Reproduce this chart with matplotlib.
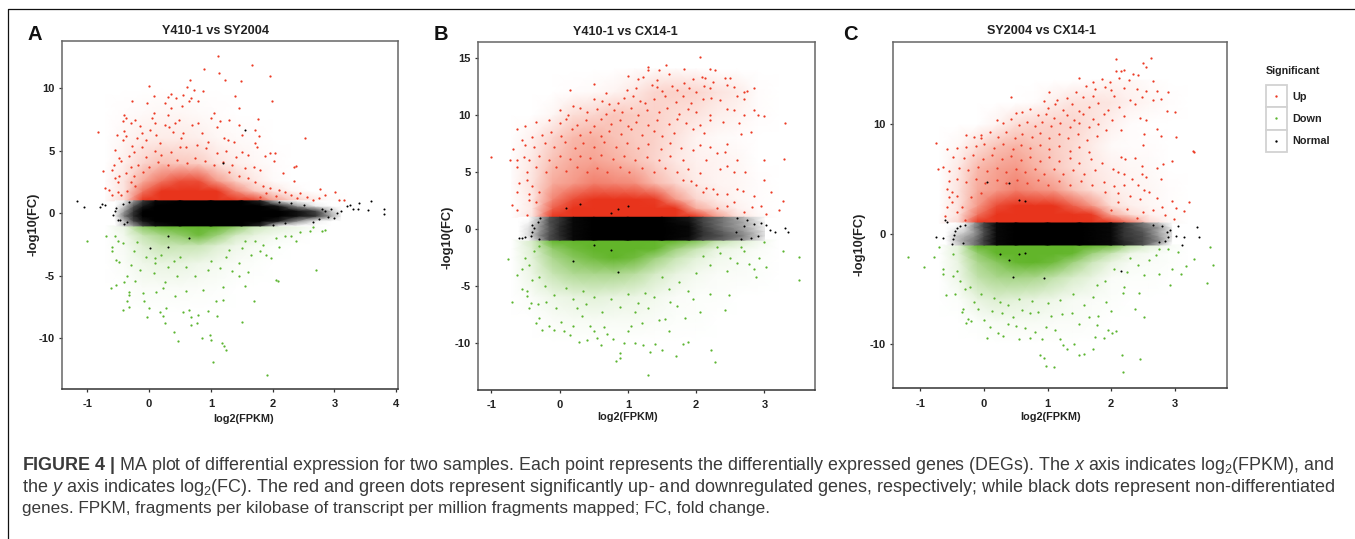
import matplotlib
matplotlib.use('Agg')
import matplotlib.pyplot as plt
from matplotlib.colors import LinearSegmentedColormap
from matplotlib.lines import Line2D
from matplotlib.patches import Rectangle
import numpy as np

plt.rcParams['font.family'] = ['Liberation Sans', 'DejaVu Sans']
plt.rcParams['mathtext.fontset'] = 'custom'
plt.rcParams['mathtext.rm'] = 'Liberation Sans'
plt.rcParams['mathtext.it'] = 'Liberation Sans:italic'
plt.rcParams['mathtext.bf'] = 'Liberation Sans:bold'
plt.rcParams['mathtext.default'] = 'regular'
plt.rcParams['axes.unicode_minus'] = False

W, H = 1355, 539

# sampling nodes of the density tables (dense clouds are too many points to list one by one)
cloud_x = [-0.7, -0.4, -0.1, 0.2, 0.5, 0.8, 1.1, 1.4, 1.7, 2.0, 2.3, 2.6, 2.9, 3.2]
up_y = [1, 1.8, 2.6, 4, 6, 8, 10, 12, 14]
down_y = [-1, -1.8, -2.6, -4, -6, -8, -10]
band_y = [-1, -0.6, -0.2, 0.2, 0.6, 1]

# ---------- Panel A : points ----------
up_a = [(1.12,12.6),(0.89,11.55),(1.14,11.2),(1.23,10.7),(1.66,11.9),(1.95,11.0),(1.49,10.6),(1.99,9.0),(0,10.2),(0.66,10.7),(0.62,10.1),
(0.73,9.9),(-0.27,9.0),(0.35,9.55),(0.88,9.8),(1.39,9.4),(1.45,8.4),(-0.82,6.5),(2.53,6.05),(1.77,7.55),(1.71,6.65),(2.34,3.7),(2.38,3.75),
(2.17,3.2),(2.35,2.6),(2.77,1.97),(3.01,1.73),(3.07,1.07),(3.15,1.07),(0.08,9.4),(0.3,9.3),(0.44,9.2),(0.55,9.5),(0.68,9.2),(0.8,9.0),
(0.25,8.8),(0.53,8.6),(0.35,8.4),(-0.03,8.8),(0.65,9.0),(-0.4,7.9),(-0.38,7.6),(-0.42,7.4),(-0.4,6.6),(-0.38,6.2),(-0.42,5.9),(-0.52,6.3),
(-0.55,5.1),(-0.45,4.2),(-0.48,4.4),(-0.57,3.9),(-0.6,3.5),(-0.74,3.4),(-0.72,2.0),(-0.65,1.9),(-0.6,1.5),(-0.55,2.8),(-0.5,2.5),(-0.48,3.0),
(-0.5,1.7),(-0.45,1.5),(-0.3,7.2),(-0.22,7.5),(-0.15,7.0),(-0.12,6.4),(-0.2,6.0),(-0.28,5.4),(-0.32,4.6),(-0.25,4.9),(-0.12,5.3),(-0.05,5.9),
(0.05,7.6),(0.08,8.0),(0.1,7.2),(0.02,6.7),(0.12,6.3),(0.18,5.6),(0.25,7.1),(0.3,7.9),(0.33,6.9),(0.38,6.5),(0.42,7.2),(0.48,7.5),(0.52,6.0),
(0.55,6.4),(0.6,5.3),(0.7,7.1),(0.8,7.2),(0.85,6.4),(0.95,5.7),(1.0,7.6),(1.05,8.0),(1.1,6.9),(1.15,7.4),(1.3,7.5),(1.22,6.0),(1.28,5.9),
(1.38,5.7),(1.5,6.3),(1.45,7.1),(1.72,5.6),(1.75,5.3),(1.78,6.2),(1.95,4.8),(2.04,4.8),(1.88,4.6),(2.03,4.2),(1.6,4.7),(1.5,4.9),(1.4,4.5),
(1.25,5.0),(1.1,4.8),(0.92,5.2),(0.78,5.5),(0.5,5.3),(0.35,4.9),(0.2,4.7),(0.1,5.0),(-0.05,4.5),(-0.18,3.9),(-0.3,3.7),(-0.38,3.2),(-0.3,2.5),
(-0.22,2.2),(-0.35,1.8),(-0.25,3.0),(-0.1,3.3),(0.0,3.7),(0.15,4.1),(0.3,3.9),(0.45,4.3),(0.62,4.0),(0.75,4.4),(0.9,4.2),(1.05,3.9),(1.2,4.1),
(1.35,3.9),(1.55,3.6),(1.7,3.7),(1.8,3.5),(1.3,3.3),(1.45,3.0),(1.6,2.8),(1.72,2.5),(1.85,2.2),(1.95,2.0),(2.1,1.9),(2.2,1.7),(2.3,1.5),(2.45,1.6),
(2.55,1.3),(2.65,1.1),(2.75,1.25),(2.85,1.45),(2.4,1.2),(2.05,1.4),(1.9,1.6),(1.8,1.3)]
down_a = [(-1.0,-2.2),(-0.7,-1.8),(-0.6,-2.7),(-0.6,-3.0),(-0.55,-1.8),(-0.5,-2.2),(-0.43,-2.4),(-0.54,-3.7),(-0.62,-6.0),(-0.53,-5.7),(-0.42,-7.7),
(-0.35,-7.0),(-0.33,-7.5),(-0.33,-6.3),(-0.32,-6.5),(-0.35,-5.0),(-0.4,-5.5),(-0.48,-3.9),(-0.3,-4.1),(-0.25,-3.0),(-0.2,-2.3),(-0.22,-5.4),(-0.15,-4.5),
(-0.1,-6.4),(-0.08,-7.0),(-0.03,-8.3),(0.0,-7.6),(0.08,-4.8),(0.12,-6.3),(0.09,-3.6),(0.17,-7.9),(0.22,-6.0),(0.22,-8.2),(0.28,-7.6),(0.25,-5.5),(0.3,-4.3),
(0.25,-8.8),(0.4,-9.5),(0.47,-10.2),(0.42,-6.6),(0.45,-5.0),(0.55,-7.9),(0.6,-6.2),(0.65,-7.7),(0.68,-8.3),(0.68,-8.9),(0.8,-8.1),(0.78,-8.8),(0.95,-7.8),
(0.88,-6.1),(0.85,-10.0),(0.98,-9.7),(1.0,-10.1),(1.03,-11.9),(1.18,-10.4),(1.22,-10.6),(1.25,-10.9),(1.1,-8.2),(1.2,-5.9),(1.2,-6.9),(1.08,-7.0),(1.5,-8.7),
(1.55,-5.8),(1.7,-7.0),(1.91,-12.9),(2.05,-5.35),(2.08,-5.4),(2.7,-4.5),(1.45,-5.0),(1.35,-4.6),(1.15,-4.4),(0.95,-4.5),(0.75,-5.0),(0.6,-4.3),(0.4,-3.8),
(1.0,-3.8),(1.25,-3.5),(1.45,-4.0),(1.6,-4.7),(1.65,-3.3),(1.8,-3.0),(1.9,-3.3),(1.98,-3.6),(1.85,-2.5),(2.05,-2.0),(2.1,-2.7),(2.2,-1.8),(2.3,-1.8),(2.45,-1.5),
(2.38,-2.2),(2.6,-1.4),(2.8,-1.4),(2.85,-1.3),(2.65,-1.1),(1.5,-2.8),(1.3,-2.9),(1.72,-2.2),(1.55,-2.2),(0.1,-4.0),(-0.05,-3.5),(0.2,-3.3),(0.5,-3.5)]
norm_a = [(-1.17,0.95),(-1.05,0.5),(-0.8,0.5),(-0.77,0.75),(-0.72,0.7),(-0.53,0.4),(-0.55,0.15),(-0.58,-0.15),(-0.5,-0.5),(-0.47,-0.55),(-0.4,-0.85),(-0.35,-0.7),
(-0.42,0.75),(-0.32,0.9),(3.2,0.55),(3.25,0.65),(3.3,0.35),(3.4,0.85),(3.38,0.35),(3.55,0.25),(3.6,0.95),(3.81,0.35),(3.81,-0.05),(3.1,0.2),(3.05,0.05),(3.0,-0.4),
(2.95,0.35),(2.9,-0.3),(2.85,0.2),(2.8,0.35),(2.75,-0.45),(2.65,-0.65),(2.5,0.65),(2.3,0.85),(2.2,-0.8),(2.1,0.9),(2.0,-0.9),(1.2,4.0),(1.55,6.65),(0.3,-2.7),(0.3,-1.8),(0.02,-2.8),(0.65,-2.0)]
band_x_a = [-0.55,-0.4,-0.25,-0.1,0.1,0.5,1.0,1.5,1.8,2.1,2.4,2.7,2.95,3.1]
band_tab_a = [[0,.15,.3,.6,.9,1,1,1,.8,.05,0,0,0,0],
              [0,.2,.6,.9,1,1,1,1,1,.85,.35,.05,0,0],
              [.05,.4,.75,1,1,1,1,1,1,1,.9,.7,.25,.05],
              [.03,.3,.7,1,1,1,1,1,1,1,.9,.6,.15,.02],
              [0,.15,.5,.85,1,1,1,1,1,.85,.3,.05,0,0],
              [0,.05,.3,.65,.95,1,1,1,.8,.1,0,0,0,0]]
up_tab_a = [[.02,.15,.7,.95,1,1,1,.95,.6,.35,.2,.1,.02,0],
            [.01,.1,.45,.7,.85,.9,.7,.4,.2,.1,.03,0,0,0],
            [.01,.1,.3,.45,.55,.55,.35,.18,.08,.02,0,0,0,0],
            [0,.06,.15,.22,.2,.18,.1,.06,.03,.01,0,0,0,0],
            [0,.03,.06,.07,.07,.06,.03,.02,.01,0,0,0,0,0],
            [0,.01,.02,.03,.03,.02,.01,0,0,0,0,0,0,0],
            [0,0,0,0,0,0,0,0,0,0,0,0,0,0],
            [0,0,0,0,0,0,0,0,0,0,0,0,0,0],
            [0,0,0,0,0,0,0,0,0,0,0,0,0,0]]
down_tab_a = [[0,.08,.45,.6,.75,.75,.7,.45,.2,.12,.08,.03,0,0],
              [0,.05,.2,.3,.4,.55,.35,.15,.08,.04,.02,0,0,0],
              [0,.03,.12,.2,.2,.2,.12,.06,.03,.01,0,0,0,0],
              [0,.02,.06,.08,.08,.06,.04,.02,.01,0,0,0,0,0],
              [0,0,.02,.02,.02,.015,.01,0,0,0,0,0,0,0],
              [0,0,0,0,0,0,0,0,0,0,0,0,0,0],
              [0,0,0,0,0,0,0,0,0,0,0,0,0,0]]

# ---------- Panel B ----------
up_b = [(2.05,15.1),(1.3,14.2),(1.3,13.9),(1.56,14.35),(1.82,14.0),(2.2,14.0),(2.28,13.9),(1.45,13.9),(1.6,13.6),(1.0,13.35),(1.15,13.1),(1.22,13.3),(1.42,13.0),
(1.95,13.1),(2.08,13.3),(2.13,13.2),(2.42,13.2),(2.5,13.2),(2.25,12.9),(0.5,12.7),(0.15,12.15),(0.68,11.9),(0.98,12.2),(1.12,12.3),(1.35,12.6),(1.42,12.4),(1.5,12.1),
(1.65,12.5),(1.72,12.2),(1.82,12.8),(1.9,12.3),(2.0,12.0),(2.12,12.5),(2.2,12.3),(2.45,12.6),(2.55,12.4),(2.7,12.0),(2.85,12.3),(2.75,12.1),(0.5,11.4),(0.62,11.2),(0.72,10.9),
(0.85,11.0),(0.95,11.5),(1.08,11.6),(1.18,11.2),(1.25,11.0),(1.38,11.4),(1.55,11.6),(1.7,11.1),(1.8,11.6),(1.92,11.0),(2.1,11.4),(2.22,11.5),(2.35,11.3),(2.6,11.6),(2.7,11.4),
(0.0,10.4),(0.12,10.0),(0.2,10.8),(0.3,10.6),(0.4,10.2),(0.55,10.5),(0.68,10.1),(0.8,10.4),(0.92,10.2),(1.05,10.6),(1.15,10.0),(1.28,10.4),(1.45,10.2),(1.58,10.6),(1.75,10.1),
(1.88,10.5),(2.0,10.2),(2.2,10.0),(2.45,10.5),(2.55,10.4),(2.7,10.0),(2.9,10.0),(3.0,9.9),(2.85,10.4),(3.3,9.3),(-0.35,9.4),(-0.15,9.5),(-0.5,9.0),(-0.62,8.7),(0.0,9.3),(0.1,9.6),
(0.25,9.1),(0.38,9.5),(0.5,9.0),(0.6,9.6),(0.75,9.2),(0.88,9.5),(1.0,9.0),(1.12,9.4),(1.3,9.1),(1.42,9.5),(1.6,9.2),(1.72,9.6),(1.85,9.3),(2.05,9.1),(2.2,9.5),(2.4,9.4),(2.62,9.3),
(2.8,8.5),(2.65,8.3),(2.12,8.4),(1.95,8.7),(1.68,8.4),(1.5,8.1),(1.38,8.6),(1.2,8.2),(1.05,8.7),(0.9,8.3),(0.72,8.6),(0.6,8.1),(0.45,8.5),(0.3,8.2),(0.18,8.7),(0.02,8.1),(-0.12,8.5),
(-0.25,8.2),(-0.4,8.0),(-0.55,7.8),(-0.5,7.3),(-0.38,7.2),(-0.22,7.5),(-0.08,7.2),(0.08,7.6),(0.22,7.1),(0.35,7.5),(0.5,7.2),(0.65,7.6),(0.82,7.2),(0.98,7.5),(1.15,7.1),(1.3,7.4),
(1.48,7.0),(1.62,7.5),(1.78,7.1),(1.95,6.9),(2.05,7.3),(2.2,7.2),(2.45,7.4),(-0.68,7.0),(-1.0,6.25),(-0.73,6.05),(-0.62,6.0),(-0.52,6.3),(-0.45,6.0),(-0.3,6.4),(-0.15,6.0),(0.0,6.4),
(0.15,6.1),(0.3,6.4),(0.45,6.2),(0.6,6.5),(0.78,6.1),(0.95,6.4),(1.1,6.0),(1.28,6.3),(1.45,6.0),(1.62,6.4),(1.8,6.0),(2.15,6.0),(2.3,6.6),(2.42,6.7),(2.6,6.0),(3.0,6.0),(3.28,6.1),
(-0.62,5.4),(-0.48,5.0),(-0.35,5.4),(-0.2,5.0),(-0.05,5.4),(0.1,5.1),(0.25,5.4),(0.4,5.0),(0.55,5.3),(0.7,5.0),(0.88,5.4),(1.02,5.0),(1.2,5.3),(1.38,5.0),(1.55,5.3),(1.72,5.0),(1.88,5.2),
(2.05,4.9),(2.35,5.2),(2.45,5.5),(2.55,5.0),(2.72,5.0),(3.0,4.3),(-0.6,4.0),(-0.48,4.3),(-0.4,3.7),(-0.62,3.2),(-0.45,3.0),(-0.7,2.1),(-0.62,1.6),(-0.45,2.5),(-0.35,2.3),(-0.48,1.2),(-0.3,3.2),
(2.15,3.6),(2.25,3.5),(2.3,3.0),(2.1,3.2),(2.0,3.8),(2.45,3.0),(2.6,3.5),(2.68,3.3),(2.85,2.9),(3.1,3.2),(3.27,2.4),(3.22,1.6),(2.95,2.0),(3.02,1.3),(2.7,1.5),(2.55,2.3),(2.45,2.0),(2.82,1.9),(2.3,1.8),(1.92,4.2),(1.8,4.3)]
down_b = [(-0.75,-2.7),(-0.62,-4.1),(-0.7,-6.4),(-0.55,-5.3),(-0.48,-5.5),(-0.47,-5.9),(-0.45,-7.0),(-0.42,-6.5),(-0.35,-8.3),(-0.3,-7.8),(-0.25,-8.9),(-0.15,-8.5),(-0.08,-8.9),(-0.05,-7.0),
(0.02,-8.2),(0.07,-9.0),(0.15,-9.3),(0.2,-8.5),(0.28,-9.9),(0.33,-7.7),(0.38,-6.6),(0.45,-8.5),(0.5,-9.0),(0.55,-9.6),(0.6,-10.2),(0.7,-9.2),(0.78,-9.7),(0.82,-11.6),(0.88,-10.9),(0.88,-11.3),(0.95,-10.0),
(1.0,-9.0),(1.05,-8.5),(1.1,-10.0),(1.22,-10.2),(1.3,-12.8),(1.32,-10.8),(1.4,-10.1),(1.5,-10.6),(1.55,-7.9),(1.6,-9.0),(1.7,-11.2),(1.8,-10.1),(1.88,-9.9),(1.83,-7.8),(2.22,-10.6),(2.28,-11.7),(2.05,-7.3),
(2.2,-5.7),(2.48,-5.8),(2.42,-7.1),(1.95,-6.2),(1.88,-5.5),(3.5,-4.5),(3.5,-2.5),(3.27,-2.0),(3.02,-3.4),(2.88,-4.2),(2.78,-3.1),(2.85,-3.5),(2.6,-3.0),(2.45,-3.7),(2.5,-2.6),(2.35,-2.1),(2.2,-3.2),(2.1,-2.4),
(2.0,-3.9),(1.75,-4.7),(1.6,-5.3),(1.5,-4.2),(1.38,-6.0),(1.25,-5.6),(1.15,-6.5),(1.0,-5.7),(0.88,-6.9),(0.75,-6.2),(0.62,-7.3),(0.5,-6.0),(0.35,-5.5),(0.2,-6.2),(0.1,-5.2),(-0.08,-5.8),(-0.2,-6.4),(-0.32,-6.6),
(-0.55,-3.5),(-0.45,-3.2),(-0.4,-4.5),(-0.3,-4.2),(-0.22,-5.0),(-0.5,-2.6),(-0.38,-2.0),(-0.3,-1.5),(1.1,-7.3),(1.3,-7.0),(1.45,-8.0),(1.62,-6.4),(1.72,-6.8),(0.25,-7.0),(0.4,-9.8),(0.65,-8.6),(1.2,-8.3),
(2.3,-1.6),(2.7,-2.0),(2.92,-2.6),(3.0,-1.2),(2.65,-1.6)]
norm_b = [(-0.6,-0.8),(-0.55,-0.8),(-0.5,-0.7),(-0.42,-0.65),(-0.4,-0.3),(-0.38,0.1),(-0.4,0.3),(-0.32,0.6),(-0.3,-0.9),(-0.28,0.9),(3.35,-0.3),(3.3,0.1),(3.15,-0.3),(3.08,-0.1),(3.02,0.3),(2.95,0.5),
(2.9,-0.6),(2.85,0.4),(2.8,-0.8),(2.75,0.8),(2.7,0.2),(2.65,-0.9),(2.6,0.9),(2.58,-0.3),(0.85,-3.8),(0.2,-2.8),(0.5,-1.4),(0.75,-1.9),(0.1,1.8),(0.3,2.2),(0.75,1.4),(0.85,1.7),(1.0,2.0)]
band_x_b = [-0.6,-0.45,-0.3,-0.15,0,0.2,0.5,1,1.5,1.9,2.1,2.4,2.7,3.0]
band_tab_b = [[0,.03,.25,.55,.7,.95,1,1,1,.9,.6,.45,.3,.05],
              [0,.1,.35,.55,.75,.95,1,1,1,.95,.7,.5,.35,.1],
              [0,.1,.3,.5,.75,.95,1,1,1,.95,.7,.45,.3,.08],
              [0,.08,.3,.5,.75,.95,1,1,1,.95,.65,.4,.25,.05],
              [0,.03,.25,.55,.7,.95,1,1,1,.9,.6,.4,.25,.03],
              [0,0,.2,.5,.7,.95,1,1,1,.85,.6,.4,.2,0]]
up_tab_b = [[0,.1,.75,1,1,1,1,1,.95,.7,.35,.12,.03,0],
            [0,.08,.5,.8,.95,.95,.95,.95,.7,.3,.15,.05,.01,0],
            [0,.08,.4,.55,.7,.7,.65,.6,.35,.15,.07,.03,.01,0],
            [.01,.1,.3,.35,.42,.4,.38,.25,.15,.07,.04,.03,.01,0],
            [.01,.08,.22,.3,.32,.28,.22,.15,.08,.05,.04,.03,0,0],
            [0,.05,.15,.25,.28,.22,.18,.16,.1,.04,.02,.01,0,0],
            [0,0,.03,.12,.15,.2,.18,.16,.12,.1,.06,.04,.01,0],
            [0,0,0,.01,.02,.04,.08,.15,.16,.15,.1,.07,.01,0],
            [0,0,0,0,0,0,.01,.02,.02,.01,0,0,0,0]]
down_tab_b = [[0,.15,.7,.9,1,1,1,1,.8,.5,.25,.15,.06,0],
              [0,.12,.4,.55,.8,.9,.8,.6,.35,.2,.08,.05,.02,0],
              [0,.1,.3,.45,.55,.65,.55,.35,.2,.1,.05,.03,.01,0],
              [0,.07,.2,.28,.3,.3,.25,.15,.08,.04,.02,.02,.01,0],
              [0,.02,.06,.08,.1,.08,.07,.05,.02,.01,.01,0,0,0],
              [0,0,.02,.03,.03,.03,.03,.02,.01,.01,0,0,0,0],
              [0,0,0,0,0,0,0,0,0,0,0,0,0,0]]

# ---------- Panel C ----------
up_c = [(2.62,16.0),(2.07,15.9),(2.5,15.6),(2.55,15.2),(2.07,14.8),(2.15,14.8),(2.2,14.9),(2.35,14.6),(1.5,14.2),(1.72,13.8),(1.85,14.1),(1.98,13.8),(2.12,14.2),(2.28,14.0),(2.42,14.5),(2.65,13.9),(1.6,13.5),
(1.75,13.2),(1.9,13.4),(2.0,13.1),(2.2,13.3),(2.4,13.2),(2.55,13.0),(2.72,13.0),(2.9,12.9),(1.02,12.9),(1.45,12.9),(1.3,12.4),(1.15,12.2),(0.95,12.1),(0.42,12.5),(1.55,12.5),(1.72,12.6),(2.05,12.6),(2.3,12.2),
(2.48,12.5),(2.65,12.2),(2.78,12.3),(1.0,11.5),(1.12,11.8),(1.25,11.3),(1.38,11.8),(1.5,11.2),(1.65,11.6),(1.8,11.9),(1.95,11.3),(2.12,11.6),(2.38,11.8),(2.88,11.2),(3.0,11.1),(0.5,11.0),(0.6,11.1),(0.72,11.4),
(0.85,10.8),(0.98,10.9),(1.1,10.6),(1.3,10.8),(1.42,10.4),(1.55,10.9),(1.72,10.5),(1.88,10.9),(2.02,10.4),(2.2,10.7),(2.45,10.6),(2.55,10.4),(0.2,10.4),(0.3,10.1),(0.42,10.5),(0.55,9.9),(0.68,10.2),(0.8,9.8),(0.92,10.2),
(1.05,9.8),(1.2,10.1),(1.35,9.7),(1.5,10.1),(1.65,9.7),(1.8,10.0),(1.92,9.5),(2.15,9.5),(2.72,9.6),(2.52,9.1),(2.78,8.9),(3.02,8.8),(-0.05,9.0),(-0.15,8.8),(-0.28,9.0),(-0.05,8.7),(0.1,9.3),(0.22,8.8),(0.35,9.3),(0.48,8.7),
(0.6,9.1),(0.75,8.8),(0.88,9.2),(1.02,8.7),(1.18,9.1),(1.32,8.7),(1.48,9.1),(1.62,8.6),(1.78,8.9),(-0.75,8.3),(-0.58,7.7),(-0.42,7.8),(-0.28,7.9),(-0.12,8.0),(0.0,8.2),(0.15,7.8),(0.3,8.2),(0.45,7.7),(0.58,8.1),(0.72,7.8),
(0.88,8.1),(1.02,7.7),(1.18,8.0),(1.35,7.6),(1.5,7.9),(1.65,7.5),(2.5,8.1),(3.28,7.6),(3.3,7.5),(-0.48,7.0),(-0.32,6.9),(-0.18,7.2),(-0.02,6.8),(0.12,7.2),(0.28,6.8),(0.42,7.1),(0.58,6.7),(0.72,7.0),(0.88,6.6),(1.02,7.0),
(1.18,6.6),(1.35,6.9),(1.5,6.5),(1.68,6.8),(1.85,6.5),(2.15,7.0),(2.22,6.8),(2.38,6.9),(2.48,6.2),(2.95,6.6),(2.82,6.4),(2.72,6.0),(-0.72,5.9),(-0.65,6.1),(-0.55,5.7),(-0.4,6.0),(-0.25,5.8),(-0.1,6.1),(0.05,5.7),(0.2,6.0),
(0.35,5.6),(0.5,5.9),(0.65,5.6),(0.8,5.9),(0.95,5.5),(1.1,5.9),(1.25,5.5),(1.4,5.8),(1.58,5.5),(1.75,5.8),(2.03,5.9),(2.1,5.6),(2.2,5.5),(2.32,5.0),(2.55,5.2),(2.48,5.5),(-0.55,4.8),(-0.42,5.0),(-0.28,4.7),(-0.12,5.0),(0.02,4.6),
(0.2,4.9),(0.35,4.6),(0.52,4.9),(0.68,4.6),(0.85,4.9),(1.0,4.5),(1.18,4.8),(1.35,4.5),(1.52,4.8),(1.7,4.5),(1.88,4.7),(2.05,4.4),(2.2,4.5),(2.42,4.5),(2.52,4.0),(2.78,5.0),(-0.58,4.1),(-0.5,3.8),(-0.55,3.4),(-0.42,3.5),(-0.58,2.5),
(-0.5,2.9),(-0.42,2.0),(-0.62,1.6),(-0.35,2.5),(-0.3,1.3),(-0.2,3.4),(-0.05,3.7),(1.9,3.8),(2.1,3.7),(2.3,3.5),(2.45,3.2),(2.6,3.8),(2.72,3.3),(2.8,2.5),(2.95,3.0),(3.02,2.4),(3.22,2.9),(3.15,2.1),(2.98,1.4),(2.85,1.7),(2.65,2.2),
(2.5,2.0),(2.4,1.5),(2.25,2.3),(2.1,2.9),(2.0,2.2)]
down_c = [(-1.2,-2.1),(-0.95,-3.0),(-0.78,-2.1),(-0.7,-1.2),(-0.65,-3.2),(-0.65,-3.6),(-0.6,-5.6),(-0.48,-1.8),(-0.48,-3.8),(-0.45,-5.5),(-0.42,-3.4),(-0.38,-4.3),(-0.33,-6.8),(-0.35,-7.1),(-0.3,-5.0),(-0.28,-8.1),
(-0.25,-7.7),(-0.2,-7.9),(-0.15,-6.2),(-0.05,-5.5),(0.0,-7.8),(0.05,-9.5),(0.1,-8.5),(0.12,-7.0),(0.22,-9.0),(0.25,-6.2),(0.28,-7.2),(0.3,-9.3),(0.38,-8.2),(0.45,-7.6),(0.5,-8.4),(0.55,-9.6),(0.6,-6.9),(0.65,-8.6),(0.72,-9.5),(0.8,-8.9),
(0.85,-7.1),(0.92,-9.6),(0.97,-8.5),(0.88,-11.0),(0.95,-11.3),(0.98,-12.0),(1.1,-12.1),(1.05,-7.5),(1.12,-8.7),(1.2,-9.6),(1.22,-7.3),(1.25,-10.1),(1.3,-10.5),(1.42,-10.0),(1.38,-7.2),(1.5,-11.0),(1.58,-10.9),(1.72,-10.5),(1.75,-9.4),
(1.88,-9.5),(1.78,-8.3),(1.8,-7.5),(1.5,-8.2),(1.58,-6.5),(1.72,-5.7),(1.95,-8.7),(2.02,-9.0),(2.08,-8.8),(2.0,-7.0),(2.17,-11.0),(2.19,-12.6),(2.45,-11.4),(2.2,-4.8),(2.18,-5.4),(2.37,-6.8),(2.43,-5.4),(2.52,-7.6),(2.92,-4.6),(2.95,-3.2),
(2.75,-3.6),(2.52,-3.7),(2.42,-2.8),(2.25,-3.5),(2.05,-3.2),(1.9,-4.3),(1.78,-4.6),(3.5,-4.5),(3.6,-2.8),(3.55,-1.2),(3.3,-2.3),(3.18,-2.9),(3.1,-3.6),(3.05,-1.6),(2.9,-1.4),(2.7,-1.9),(1.4,-5.5),(1.2,-6.0),(1.0,-6.3),(0.75,-6.1),(0.55,-5.9),
(0.38,-6.5),(0.15,-5.8),(-0.22,-4.8),(-0.1,-6.8),(0.72,-7.2),(1.65,-7.6),(1.92,-6.2),(2.3,-2.2),(2.6,-2.4),(2.75,-1.4)]
norm_c = [(-0.75,-0.3),(-0.65,-0.4),(-0.62,1.3),(-0.58,1.1),(-0.5,-0.9),(-0.48,-0.5),(-0.47,-0.1),(-0.45,0.3),(-0.42,0.55),(-0.38,0.75),(-0.33,-0.85),(-0.3,0.85),(3.38,-0.3),(3.35,0.6),(3.12,-1.0),(3.15,-0.3),(3.05,0.7),(3.02,-0.2),
(2.92,0.4),(2.9,-0.3),(2.88,0.2),(2.85,-0.6),(2.8,0.7),(2.75,-0.75),(2.65,0.85),(2.15,-3.4),(0.65,-1.7),(0.55,-1.8),(0.4,-2.4),(0.25,-1.8),(0.55,3.1),(0.65,3.0),(0.45,-3.9),(0.95,-4.0),(0.4,4.6),(0.05,4.7)]
band_x_c = [-0.6,-0.45,-0.3,-0.15,0,0.2,0.5,1,1.5,2,2.2,2.5,2.75,2.95]
band_tab_c = [[0,.1,.25,.4,.6,.95,1,1,1,.95,.8,.55,.2,0],
              [0,.15,.3,.4,.65,.95,1,1,1,.95,.75,.55,.35,.05],
              [0,.15,.25,.35,.6,.95,1,1,1,.95,.7,.55,.3,.1],
              [0,.08,.15,.3,.55,.95,1,1,1,.95,.7,.5,.25,.1],
              [0,.03,.1,.35,.6,.95,1,1,1,.95,.7,.45,.3,.05],
              [0,0,.05,.3,.6,.95,1,1,1,.95,.7,.4,.15,0]]
up_tab_c = [[.01,.15,.8,1,1,1,1,1,.95,.8,.45,.15,.03,0],
            [0,.1,.45,.8,.95,.95,.95,.85,.6,.3,.12,.05,.02,0],
            [0,.1,.35,.55,.7,.75,.65,.5,.35,.12,.06,.03,.01,0],
            [0,.1,.3,.35,.42,.38,.35,.22,.12,.07,.04,.03,.01,0],
            [0,.08,.25,.32,.35,.28,.2,.13,.08,.05,.03,.02,0,0],
            [0,.03,.12,.22,.27,.22,.18,.13,.07,.02,.01,.01,0,0],
            [0,0,0,.04,.12,.15,.16,.15,.1,.05,.01,0,0,0],
            [0,0,0,0,0,.01,.06,.1,.1,.09,.05,.03,.01,0],
            [0,0,0,0,0,0,0,0,.01,.03,.03,.01,0,0]]
down_tab_c = [[0,.1,.75,.95,1,1,1,1,.85,.55,.25,.1,.03,0],
              [0,.1,.4,.7,.85,.9,.8,.6,.35,.2,.06,.03,.01,0],
              [0,.08,.3,.45,.6,.7,.55,.35,.18,.08,.03,.02,.01,0],
              [0,.06,.22,.3,.32,.3,.22,.14,.08,.02,.01,.01,0,0],
              [0,.01,.08,.12,.1,.08,.06,.03,.02,.01,0,0,0,0],
              [0,0,.01,.03,.03,.03,.02,.02,.01,0,0,0,0,0],
              [0,0,0,0,0,0,0,0,0,0,0,0,0,0]]

tick_x_a = [-1, 0, 1, 2, 3, 4]
tick_x_b = [-1, 0, 1, 2, 3]
tick_x_c = [-1, 0, 1, 2, 3]
tick_y_a = [-10, -5, 0, 5, 10]
tick_y_b = [-10, -5, 0, 5, 10, 15]
tick_y_c = [-10, 0, 10]

RED = '#ec3a24'
GREEN = '#5cb530'
TXT = '#222222'
red_map = LinearSegmentedColormap.from_list('r', ['white', '#f7a898', '#e8341c'])
green_map = LinearSegmentedColormap.from_list('g', ['white', '#a9d68a', '#62b52a'])
black_map = LinearSegmentedColormap.from_list('k', ['white', '#555555', 'black'])


def make_axes(left, right, top, bottom):
    return fig.add_axes([left/W, 1-bottom/H, (right-left)/W, (bottom-top)/H])


def density(ax, xs, ys, tab, cmap, vmax=1):
    X, Y = np.meshgrid(xs, ys)
    ax.pcolormesh(X, Y, np.array(tab), shading='gouraud', cmap=cmap, vmin=0, vmax=vmax, zorder=1)


def panel(ax, xlim, ylim, xt, yt, title, title_pos, xlab_pos, ylab_pos, letter, letter_pos,
          up, down, norm, up_tab, down_tab, band_x, band_tab):
    density(ax, cloud_x, up_y, up_tab, red_map, 0.62)
    density(ax, cloud_x, down_y, down_tab, green_map, 0.62)
    density(ax, band_x, band_y, band_tab, black_map)

    up = np.array(up)
    down = np.array(down)
    norm = np.array(norm)
    ax.scatter(up[:, 0], up[:, 1], s=2.6, color=RED, lw=0, zorder=3)
    ax.scatter(down[:, 0], down[:, 1], s=2.6, color=GREEN, lw=0, zorder=3)
    ax.scatter(norm[:, 0], norm[:, 1], s=2.2, color='black', lw=0, zorder=3)

    ax.set_xlim(xlim)
    ax.set_ylim(ylim)
    ax.set_xticks(xt)
    ax.set_yticks(yt)
    ax.tick_params(length=2.5, width=0.9, color='#333333', labelsize=8, labelcolor=TXT)
    ax.tick_params(axis='x', pad=5)
    ax.tick_params(axis='y', pad=3)
    for lab in ax.get_xticklabels() + ax.get_yticklabels():
        lab.set_fontweight('bold')
    for s in ax.spines.values():
        s.set_linewidth(1.1)
        s.set_color('#666666')
    ax.spines['bottom'].set_color('#333333')

    fig.text(title_pos[0]/W, 1-title_pos[1]/H, title, fontsize=9.1, fontweight='bold',
             ha='center', va='center', color=TXT)
    fig.text(xlab_pos[0]/W, 1-xlab_pos[1]/H, 'log2(FPKM)', fontsize=7.8, fontweight='bold',
             ha='center', va='center', color=TXT)
    fig.text(ylab_pos[0]/W, 1-ylab_pos[1]/H, '-log10(FC)', fontsize=9.3, fontweight='bold',
             ha='center', va='center', rotation=90, color=TXT)
    fig.text(letter_pos[0]/W, 1-letter_pos[1]/H, letter, fontsize=14.5, fontweight='bold',
             ha='left', va='center', color='#111111')


fig = plt.figure(figsize=(W/100, H/100), dpi=100, facecolor='white')

ax_a = make_axes(62, 398, 41, 388.5)
panel(ax_a, (-1.41, 4.03), (-14.0, 13.78), tick_x_a, tick_y_a, 'Y410-1 vs SY2004',
      (216, 31), (243.5, 419), (33, 224), 'A', (27, 34),
      up_a, down_a, norm_a, up_tab_a, down_tab_a, band_x_a, band_tab_a)

ax_b = make_axes(478.3, 815, 41.7, 390)
panel(ax_b, (-1.19, 3.74), (-14.15, 16.4), tick_x_b, tick_y_b, 'Y410-1 vs CX14-1',
      (625, 32), (628, 417), (448, 237), 'B', (434, 34),
      up_b, down_b, norm_b, up_tab_b, down_tab_b, band_x_b, band_tab_b)

ax_c = make_axes(893, 1227.3, 42, 388.3)
panel(ax_c, (-1.43, 3.825), (-14.05, 17.48), tick_x_c, tick_y_c, 'SY2004 vs CX14-1',
      (1041.5, 31), (1051, 417), (860, 244), 'C', (843, 34),
      up_c, down_c, norm_c, up_tab_c, down_tab_c, band_x_c, band_tab_c)

# legend drawn by hand, ggplot style key boxes
legend_labels = ['Up', 'Down', 'Normal']
legend_colors = [RED, GREEN, 'black']
fig.text(1266/W, 1-71/H, 'Significant', fontsize=7.7, fontweight='bold', va='center', color=TXT)
for i in range(3):
    y0 = 85 + i*22.3
    fig.add_artist(Rectangle((1265.5/W, 1-(y0+22.3)/H), 21.5/W, 22.3/H, transform=fig.transFigure,
                             fc='white', ec='#d2d2d2', lw=1.3))
    fig.add_artist(Line2D([1275.5/W], [1-(y0+11)/H], marker='o', ms=1.7, mew=0, color=legend_colors[i]))
    fig.text(1292.5/W, 1-(y0+11.5)/H, legend_labels[i], fontsize=7.8, fontweight='bold', va='center', color=TXT)

# frame of the figure box
fig.add_artist(Line2D([8/W, 8/W, 1], [0, 1-9/H, 1-9/H], color='#111111', lw=0.9))

# caption
cap1 = r'$\mathbf{FIGURE\ 4\ |}$ MA plot of differential expression for two samples. Each point represents the differentially expressed genes (DEGs). The $\mathit{x}$ axis indicates log$_2$(FPKM), and'
cap2 = r'the $\mathit{y}$ axis indicates log$_2$(FC). The red and green dots represent significantly up- and downregulated genes, respectively; while black dots represent non-differentiated'
cap3 = 'genes. FPKM, fragments per kilobase of transcript per million fragments mapped; FC, fold change.'
for txt, yy, fs in zip([cap1, cap2, cap3], [465.5, 487.5, 508], [12.85, 12.95, 12.35]):
    fig.text(21.5/W, 1-yy/H, txt, fontsize=fs, va='center', ha='left', color='#3a3a3a')

fig.savefig('out.png', dpi=100)
